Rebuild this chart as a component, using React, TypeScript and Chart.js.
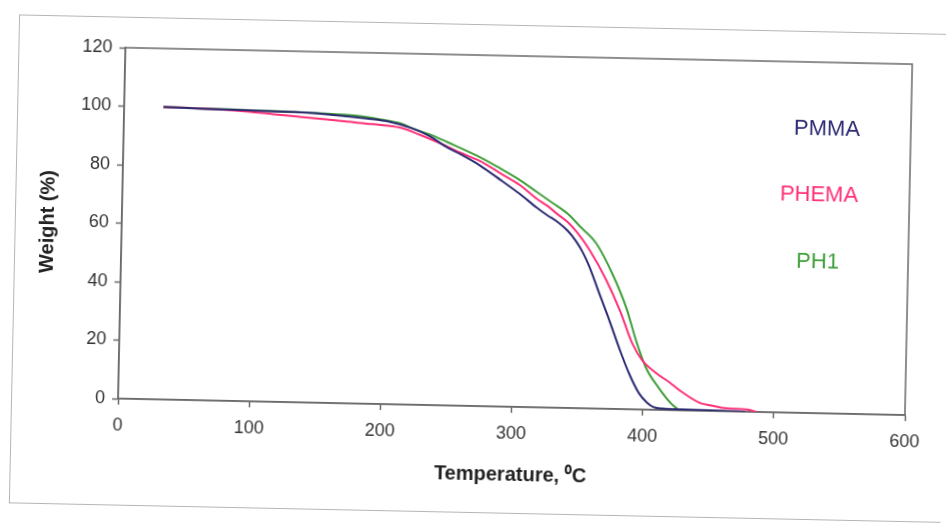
import React, { useEffect, useRef } from 'react';
import { Chart, registerables } from 'chart.js';

Chart.register(...registerables);

// Temperature (°C) / weight (%) readings for each sample
const pmmaTemp = [30, 60, 100, 130, 160, 185, 203, 220, 233, 247, 257, 272, 288, 303, 316, 324, 332, 340, 347, 352, 357, 365, 373, 381, 389, 397, 403, 408, 415, 430, 460, 478];
const pmmaWeight = [100, 99.7, 99.4, 99.2, 98.5, 97.5, 96.5, 94.5, 92, 88.2, 86, 82.3, 77.5, 72.8, 68.3, 65.8, 63.6, 60.6, 56.8, 53.2, 48.6, 39.5, 30.5, 21, 12.3, 5.5, 2.5, 1, 0.5, 0.3, 0.2, 0];

const phemaTemp = [30, 70, 96, 114, 132, 152, 170, 190, 211, 226, 247, 257, 272, 288, 303, 316, 324, 332, 340, 347, 357, 370, 381, 391, 399, 410, 420, 428, 443, 451, 464, 480, 487];
const phemaWeight = [100, 99.6, 99, 98.3, 97.7, 97, 96.3, 95.6, 94.6, 92.3, 88.5, 86.5, 83.8, 79.7, 75.8, 71.3, 69, 66.2, 63.5, 60.2, 54.2, 44.2, 33.8, 22.6, 16.8, 12.5, 9.5, 6.8, 2.8, 2, 1, 0.8, 0];

const ph1Temp = [30, 100, 150, 180, 196, 211, 221, 233, 247, 272, 288, 303, 316, 328, 340, 349, 362, 375, 386, 394, 402, 412, 422, 428];
const ph1Weight = [100, 99.5, 99, 98.3, 97.3, 96.1, 94.3, 92.6, 90, 85.1, 81.3, 77.5, 73.6, 70, 66.3, 62.3, 56.5, 46, 34.6, 23.4, 14.2, 7.5, 2.1, 0];

const seriesNames = ['PMMA', 'PHEMA', 'PH1'];
const seriesColors = ['#2c2a72', '#ff2f78', '#40a03a'];
// in-plot series labels, in data coordinates [temperature, weight]
const labelTemps = [536, 531, 531];
const labelWeights = [97, 74.5, 51.6];

const xTitle = 'Temperature, \u2070C';
const yTitle = 'Weight (%)';

const FONT = '"Liberation Sans", Arial, Helvetica, sans-serif';
const AXIS_COLOR = '#6a6a6a';
const TEXT_COLOR = '#333333';

const toPoints = (xs: number[], ys: number[]) => xs.map((x, i) => ({ x, y: ys[i] }));

const framePlugin = {
  id: 'framePlugin',
  beforeDraw(chart: any) {
    const { ctx } = chart;
    ctx.save();
    ctx.strokeStyle = '#b5b5b5';
    ctx.lineWidth = 1;
    ctx.strokeRect(14.5, 24.5, 960, 488);
    ctx.restore();
  },
  beforeDatasetsDraw(chart: any) {
    const { ctx, chartArea } = chart;
    const { left, top, right, bottom } = chartArea;
    ctx.save();
    ctx.strokeStyle = AXIS_COLOR;
    ctx.lineWidth = 1.5;
    ctx.strokeRect(left, top, right - left, bottom - top);
    ctx.restore();
  },
  afterDatasetsDraw(chart: any) {
    const { ctx, scales } = chart;
    ctx.save();
    ctx.font = `22px ${FONT}`;
    ctx.textAlign = 'center';
    ctx.textBaseline = 'middle';
    seriesNames.forEach((name, i) => {
      ctx.fillStyle = seriesColors[i];
      ctx.fillText(name, scales.x.getPixelForValue(labelTemps[i]), scales.y.getPixelForValue(labelWeights[i]));
    });
    ctx.restore();
  },
};

export default function App() {
  const canvasRef = useRef<HTMLCanvasElement | null>(null);

  useEffect(() => {
    if (!canvasRef.current) return;
    const series = [
      toPoints(pmmaTemp, pmmaWeight),
      toPoints(phemaTemp, phemaWeight),
      toPoints(ph1Temp, ph1Weight),
    ];
    const chart = new Chart(canvasRef.current, {
      type: 'scatter',
      data: {
        datasets: series.map((pts, i) => ({
          label: seriesNames[i],
          data: pts,
          showLine: true,
          borderColor: seriesColors[i],
          backgroundColor: seriesColors[i],
          borderWidth: 2,
          pointRadius: 0,
          cubicInterpolationMode: 'monotone',
        })),
      },
      options: {
        animation: false,
        responsive: false,
        layout: { padding: { left: 31, top: 55, right: 38, bottom: 0 } },
        plugins: {
          legend: { display: false },
          tooltip: { enabled: false },
          title: { display: false },
        },
        scales: {
          x: {
            type: 'linear',
            min: 0,
            max: 600,
            ticks: { stepSize: 100, padding: 10, color: TEXT_COLOR, font: { family: FONT, size: 18 }, maxRotation: 0 },
            grid: { display: true, drawOnChartArea: false, drawTicks: true, tickLength: 6, tickColor: AXIS_COLOR, tickWidth: 1.5 },
            border: { display: true, color: AXIS_COLOR, width: 1.5 },
            title: { display: true, text: xTitle, color: '#222', font: { family: FONT, size: 20, weight: 'bold' }, padding: { top: 4, bottom: 40 } },
            afterFit: (s: any) => { s.height = 120; },
          },
          y: {
            type: 'linear',
            min: 0,
            max: 120,
            ticks: { stepSize: 20, padding: 7, color: TEXT_COLOR, font: { family: FONT, size: 18 } },
            grid: { display: true, drawOnChartArea: false, drawTicks: true, tickLength: 6, tickColor: AXIS_COLOR, tickWidth: 1.5 },
            border: { display: true, color: AXIS_COLOR, width: 1.5 },
            title: { display: true, text: yTitle, color: '#222', font: { family: FONT, size: 20, weight: 'bold' }, padding: { top: 4, bottom: 4 } },
            afterFit: (s: any) => { s.width = 90; },
          },
        },
      },
      plugins: [framePlugin],
    } as any);
    return () => chart.destroy();
  }, []);

  return (
    <div
      style={{
        position: 'absolute',
        left: 0,
        top: 0,
        width: 946,
        height: 526,
        transform: 'rotate(1.2deg)',
        transformOrigin: '473px 263px',
      }}
    >
      <canvas ref={canvasRef} width={946} height={526} style={{ display: 'block', width: 946, height: 526 }} />
    </div>
  );
}
